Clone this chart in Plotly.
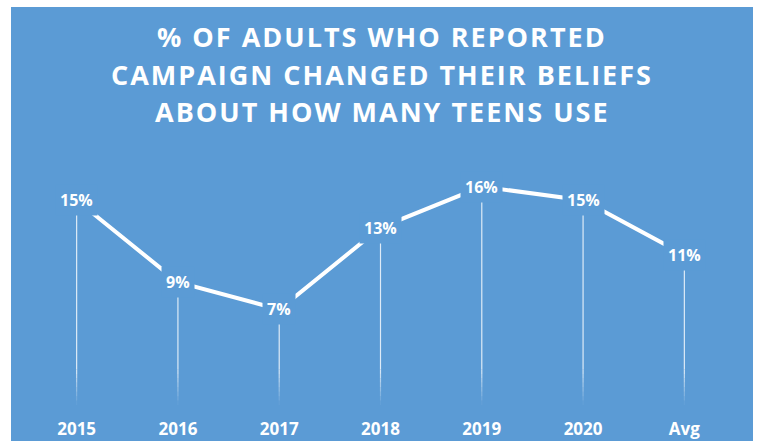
import plotly.graph_objects as go

# Survey results: share of adults saying the campaign changed their beliefs
categories = ["2015", "2016", "2017", "2018", "2019", "2020", "Avg"]
values = [15, 9, 7, 13, 16, 15, 11]
value_labels = ["15%", "9%", "7%", "13%", "16%", "15%", "11%"]
title_lines = [
    "% OF ADULTS WHO REPORTED",
    "CAMPAIGN CHANGED THEIR BELIEFS",
    "ABOUT HOW MANY TEENS USE",
]

BLUE = "#5B9BD5"
FONT = "Open Sans"

W, H = 758, 441
ML, MR, MT, MB = 26, 23, 132, 36
PW = W - ML - MR
PH = H - MT - MB


def px_x(px):
    return (px - ML) / PW


def px_y(py):
    return (H - MB - py) / PH


fig = go.Figure()
idx = list(range(len(categories)))

# thin drop lines from each point down to the baseline, fading out near the bottom
fade_top = 2.6
fade_steps = 8
step = fade_top / fade_steps
solid_x, solid_y = [], []
for i, v in zip(idx, values):
    solid_x += [i, i, None]
    solid_y += [v, fade_top, None]
fig.add_trace(go.Scatter(
    x=solid_x, y=solid_y, mode="lines",
    line=dict(color="rgba(255,255,255,0.8)", width=1.2),
    hoverinfo="skip", showlegend=False,
))
for k in range(fade_steps):
    hi = fade_top - k * step
    lo = hi - step
    alpha = 0.8 * (1 - (k + 0.5) / fade_steps)
    fx, fy = [], []
    for i in idx:
        fx += [i, i, None]
        fy += [hi, lo, None]
    fig.add_trace(go.Scatter(
        x=fx, y=fy, mode="lines",
        line=dict(color="rgba(255,255,255,%.3f)" % alpha, width=1.2),
        hoverinfo="skip", showlegend=False,
    ))

# main series line
fig.add_trace(go.Scatter(
    x=idx, y=values, mode="lines",
    line=dict(color="white", width=4),
    hoverinfo="skip", showlegend=False,
))

annotations = []
# value labels sit on the points with a background that breaks the line
for i, v, t in zip(idx, values, value_labels):
    annotations.append(dict(
        x=i, y=v, xref="x", yref="y", text=t, showarrow=False,
        bgcolor=BLUE, borderpad=4,
        font=dict(family=FONT, size=16, color="white", weight="bold"),
        xanchor="center", yanchor="middle",
    ))

# three-line chart title
title_centers = [36.5, 74, 111.5]
for line, cy in zip(title_lines, title_centers):
    annotations.append(dict(
        x=px_x(382), y=px_y(cy), xref="paper", yref="paper", text=line,
        showarrow=False, xanchor="center", yanchor="middle",
        font=dict(family=FONT, size=27, color="white", weight="bold"),
    ))

fig.update_layout(
    width=W, height=H,
    margin=dict(l=ML, r=MR, t=MT, b=MB, pad=0, autoexpand=False),
    paper_bgcolor="white", plot_bgcolor=BLUE,
    showlegend=False,
    annotations=annotations,
    shapes=[dict(
        type="rect", xref="paper", yref="paper", layer="below",
        x0=px_x(11), x1=px_x(753), y0=px_y(460), y1=px_y(7),
        fillcolor=BLUE, line=dict(width=0),
    )],
    xaxis=dict(
        tickmode="array", tickvals=idx, ticktext=categories,
        range=[-0.5, 6.5], showgrid=False, zeroline=False, showline=False,
        ticks="", ticklabelstandoff=12, automargin=False,
        tickfont=dict(family=FONT, size=17, color="white", weight="bold"),
        fixedrange=True,
    ),
    yaxis=dict(range=[0, 20], visible=False, fixedrange=True, automargin=False),
)

# widen the title's letter spacing
post = """
document.querySelectorAll('g.annotation').forEach(function(g){
  var i = +g.getAttribute('data-index');
  if (i >= %d) { var t = g.querySelector('text'); if (t) { t.style.letterSpacing = '2px'; } }
});
""" % len(categories)

fig.write_html("out.html", config={"displayModeBar": False}, post_script=post)
